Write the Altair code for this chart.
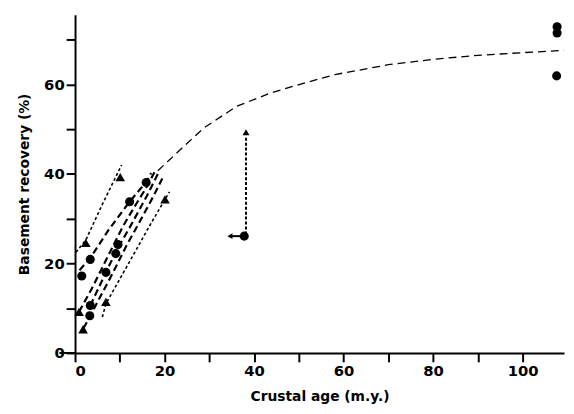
import altair as alt
import pandas as pd

# ---- data ----
tri_x = [10.1, 2.4, 0.9, 1.8, 6.9, 20.1]
tri_y = [39.3, 24.6, 9.2, 5.3, 11.4, 34.3]

circ_x = [15.9, 12.2, 3.4, 1.5, 9.6, 9.1, 6.9, 3.4, 3.3, 37.8, 107.7, 107.7, 107.6]
circ_y = [38.1, 33.8, 20.9, 17.2, 24.2, 22.2, 18.0, 10.6, 8.3, 26.1, 72.9, 71.5, 61.9]

curve_x = [18.5, 23.6, 28.8, 36.1, 43.5, 50.8, 58.1, 70, 80, 90, 100, 109.2]
curve_y = [40.7, 45.5, 50.3, 55.1, 58.0, 60.2, 62.2, 64.4, 65.6, 66.5, 67.1, 67.6]

thick_lines = {
    "A": ([1.0, 3.4, 7.5, 12.2, 15.9, 17.0], [18.5, 21.2, 27.5, 33.8, 38.2, 40.2]),
    "B": ([0.9, 3.7, 5.9, 10.7, 13.3, 16.2, 17.8], [9.2, 14.3, 18.7, 28.3, 32.7, 37.4, 40.5]),
    "C": ([3.4, 6.9, 9.3, 12.2, 16.0, 18.6], [10.6, 18.0, 23.0, 28.0, 35.0, 40.2]),
    "D": ([1.9, 3.4, 8.5, 11.5, 14.0, 17.5, 19.5], [5.5, 8.3, 18.0, 24.0, 28.5, 35.0, 39.0]),
}
dotted_lines = {
    "D1": ([0.2, 2.4, 6.0, 10.4], [22.5, 25.2, 33.0, 42.0]),
    "D2": ([6.1, 6.9, 12.8, 17.0, 21.1], [8.0, 11.0, 21.5, 29.0, 36.0]),
}

# arrows from the point at 38 m.y.
arrow_up = {"x": 38.2, "y": 26.5, "y2": 48.5, "head": 49.3}
arrow_left = {"y": 26.1, "x": 37.8, "x2": 35.0, "head": 34.6}

labels = ["<100 m penetration", "\u2265100 m penetration"]

FONT = "DejaVu Sans"
XMAX = 109.25
YMAX = 75.55

# ---- tables ----
pts = pd.DataFrame(
    {"x": tri_x + circ_x, "y": tri_y + circ_y,
     "kind": [labels[0]] * len(tri_x) + [labels[1]] * len(circ_x)}
)
def lines_df(d):
    rows = []
    for k, (xs, ys) in d.items():
        for i, (a, b) in enumerate(zip(xs, ys)):
            rows.append({"id": k, "x": a, "y": b, "o": i})
    return pd.DataFrame(rows)

thick_df = lines_df(thick_lines)
dot_df = lines_df(dotted_lines)
curve_df = pd.DataFrame({"x": curve_x, "y": curve_y})

xs = alt.Scale(domain=[0, XMAX], nice=False, zero=False)
ys = alt.Scale(domain=[0, YMAX], nice=False, zero=False)

xax = alt.Axis(values=list(range(0, 101, 10)), labelExpr="datum.value % 20 == 0 ? datum.label : ''",
               title="Crustal age (m.y.)", grid=False)
yax = alt.Axis(values=list(range(0, 71, 10)), labelExpr="datum.value % 20 == 0 ? datum.label : ''",
               title="Basement recovery (%)", grid=False)

X = lambda: alt.X("x:Q", scale=xs, axis=xax)
Y = lambda: alt.Y("y:Q", scale=ys, axis=yax)

curve = alt.Chart(curve_df).mark_line(color="black", strokeWidth=1.3, strokeDash=[8, 5]).encode(
    x=X(), y=Y())
thick = alt.Chart(thick_df).mark_line(color="black", strokeWidth=2.2, strokeDash=[7, 4]).encode(
    x=X(), y=Y(), detail="id:N", order="o:Q")
dotted = alt.Chart(dot_df).mark_line(color="black", strokeWidth=1.6, strokeDash=[3, 2.5]).encode(
    x=X(), y=Y(), detail="id:N", order="o:Q")

up_df = pd.DataFrame([arrow_up])
up_rule = alt.Chart(up_df).mark_rule(color="black", strokeWidth=2, strokeDash=[3, 2]).encode(
    x=X(), y=alt.Y("y:Q", scale=ys, axis=yax), y2="y2:Q")
up_head = alt.Chart(up_df).mark_point(shape="triangle-up", filled=True, color="black", size=50, opacity=1).encode(
    x=X(), y=alt.Y("head:Q", scale=ys, axis=yax))

left_df = pd.DataFrame([arrow_left])
left_rule = alt.Chart(left_df).mark_rule(color="black", strokeWidth=2).encode(
    x=alt.X("x:Q", scale=xs, axis=xax), x2="x2:Q", y=Y())
left_head = alt.Chart(left_df).mark_point(shape="triangle-left", filled=True, color="black", size=35, opacity=1).encode(
    x=alt.X("head:Q", scale=xs, axis=xax), y=Y())

# small extension of the x axis line left of the origin
ext_df = pd.DataFrame({"x": [-3.5], "x2": [0], "y": [0]})
ext = alt.Chart(ext_df).mark_rule(color="black", strokeWidth=2).encode(
    x=alt.X("x:Q", scale=xs, axis=xax), x2="x2:Q", y=Y())

points = alt.Chart(pts).mark_point(filled=True, color="black", opacity=1).encode(
    x=X(), y=Y(),
    shape=alt.Shape("kind:N", scale=alt.Scale(domain=labels, range=["triangle-up", "circle"]),
                    legend=alt.Legend(title=None, orient="none", legendX=254, legendY=201,
                                      rowPadding=17, labelOffset=12, padding=0,
                                      symbolFillColor="black", symbolStrokeColor="black",
                                      symbolSize=65, labelFont=FONT, labelFontSize=15,
                                      labelFontWeight="bold", labelColor="black")),
    size=alt.Size("kind:N", scale=alt.Scale(domain=labels, range=[95, 85]), legend=None),
)

chart = alt.layer(curve, thick, dotted, up_rule, up_head, left_rule, left_head, ext, points).properties(
    width=496, height=343,
    autosize=alt.AutoSizeParams(type="none"),
    padding={"left": 68, "top": 4, "right": 2, "bottom": 59},
    background="white",
).configure_view(stroke=None).configure_axis(
    domainColor="black", domainWidth=2, tickColor="black", tickWidth=2, tickSize=9,
    labelFont=FONT, labelFontSize=15, labelFontWeight="bold", labelColor="black", labelPadding=2,
    titleFont=FONT, titleFontSize=14, titleFontWeight="bold", titleColor="black",
).configure_axisX(titlePadding=11).configure_axisY(titlePadding=12)

chart.save("out.html", embed_options={"renderer": "svg", "actions": False})
